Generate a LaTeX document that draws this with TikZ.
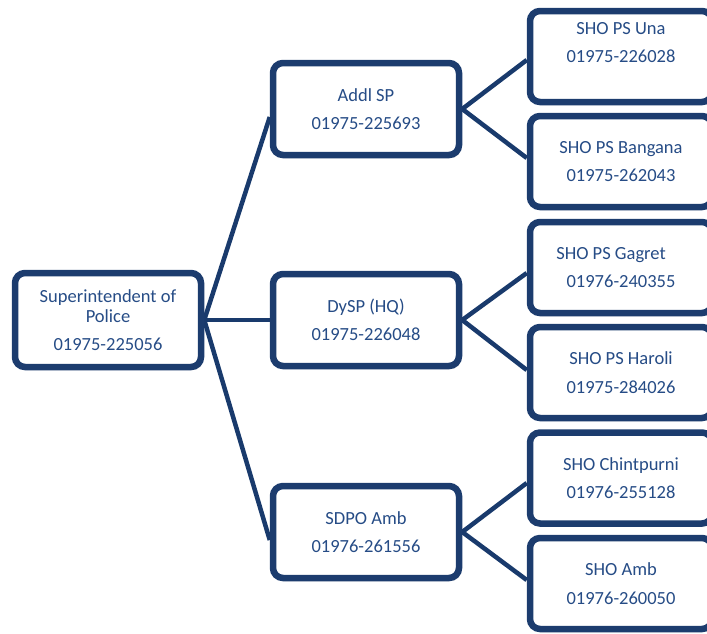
\documentclass[tikz,border=0pt]{standalone}
\usepackage{fontspec}
\setmainfont{Carlito}
\usetikzlibrary{shadows,backgrounds,calc}
\definecolor{boxborder}{RGB}{28,60,110}
\definecolor{boxtext}{RGB}{38,76,134}
\definecolor{linkcol}{RGB}{25,58,108}
\tikzset{
  orgbox/.style={draw=boxborder, line width=6.5pt, rounded corners=10pt, fill=white,
    inner sep=0pt, align=center, text=boxtext,
    font=\fontsize{18.5}{28.5}\selectfont,
    drop shadow={opacity=0.25, shadow xshift=2pt, shadow yshift=-3pt}},
  midbox/.style={orgbox, minimum width=186pt, minimum height=92pt},
  leafbox/.style={orgbox, minimum width=182pt, minimum height=91pt},
  link/.style={draw=linkcol, line width=4.5pt}
}
\begin{document}
\begin{tikzpicture}[x=1pt,y=-1pt]
\useasboundingbox (0,0) rectangle (707,633);
\clip (0,0) rectangle (707,633);
\node[midbox, minimum height=94pt] (root) at (108,320) {Superintendent of\\[-8.5pt]Police\\01975-225056};
\node[midbox] (addl) at (366,109) {Addl SP\\01975-225693};
\node[midbox] (dysp) at (366,320) {DySP (HQ)\\01975-226048};
\node[midbox] (sdpo) at (366,532) {SDPO Amb\\01976-261556};
\node[leafbox] (una) at (621,56.5) {SHO PS Una\\01975-226028\\\mbox{}};
\node[leafbox] (bang) at (621,161.5) {SHO PS Bangana\\01975-262043};
\node[leafbox] (gag) at (621,267.5) {SHO PS Gagret\hspace*{20pt}\\01976-240355};
\node[leafbox] (har) at (621,372.5) {SHO PS Haroli\\01975-284026};
\node[leafbox] (chin) at (621,478) {SHO Chintpurni\\01976-255128};
\node[leafbox] (amb) at (621,583.5) {SHO Amb\\01976-260050};
\begin{scope}[on background layer]
\draw[link] (root.east) -- ([yshift=-8pt]addl.west);
\draw[link] (root.east) -- (dysp.west);
\draw[link] (root.east) -- ([yshift=-8pt]sdpo.west);
\draw[link] (addl.east) -- ([yshift=-3.5pt]una.west);
\draw[link] (addl.east) -- ([yshift=3.5pt]bang.west);
\draw[link] (dysp.east) -- ([yshift=-5.5pt]gag.west);
\draw[link] (dysp.east) -- ([yshift=2.5pt]har.west);
\draw[link] (sdpo.east) -- ([yshift=-5pt]chin.west);
\draw[link] (sdpo.east) -- ([yshift=3.5pt]amb.west);
\end{scope}
\end{tikzpicture}
\end{document}
